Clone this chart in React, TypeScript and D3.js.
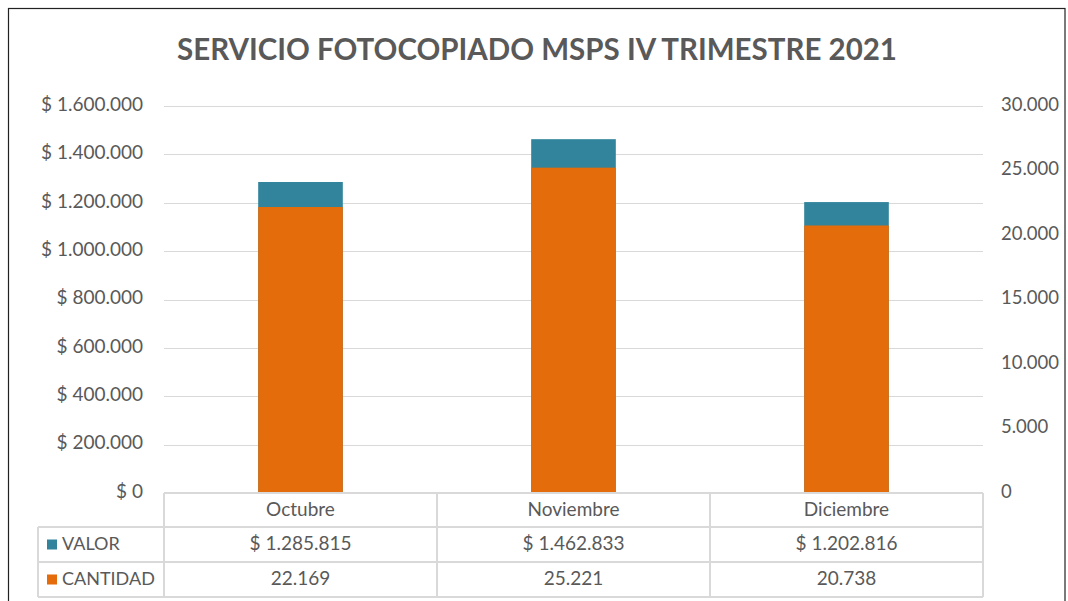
import React, { useRef, useEffect } from 'react';
import * as d3 from 'd3';

const months = ['Octubre', 'Noviembre', 'Diciembre'];
const valor = [1285815, 1462833, 1202816];
const cantidad = [22169, 25221, 20738];
const valorTicks = [0, 200000, 400000, 600000, 800000, 1000000, 1200000, 1400000, 1600000];
const cantidadTicks = [0, 5000, 10000, 15000, 20000, 25000, 30000];
const seriesNames = ['VALOR', 'CANTIDAD'];

const W = 1068;
const H = 601;
const TEAL = '#31849B';
const ORANGE = '#E46C0A';
const TEXT = '#595959';
const GRID = '#d9d9d9';
const FONT = 'Lato, "Open Sans", sans-serif';

// miles con punto, como Excel en español
const fmtNum = (v: number) => d3.format(',')(v).replace(/,/g, '.');
const fmtMoney = (v: number) => '$ ' + fmtNum(v);

const App = () => {
  const svgRef = useRef<SVGSVGElement>(null);

  useEffect(() => {
    const svg = d3.select(svgRef.current);
    svg.selectAll('*').remove();

    const plot = { left: 164, right: 983, top: 106, bottom: 493 };

    svg.append('rect')
      .attr('width', W).attr('height', H).attr('fill', '#fff');

    // marco del grafico
    svg.append('rect')
      .attr('x', 8.5).attr('y', 8.5)
      .attr('width', 1065 - 8.5).attr('height', H + 10)
      .attr('fill', 'none')
      .attr('stroke', '#222')
      .attr('stroke-width', 1.2);

    svg.append('text')
      .attr('x', 537).attr('y', 52)
      .attr('text-anchor', 'middle')
      .attr('dominant-baseline', 'middle')
      .style('font-family', FONT)
      .style('font-size', '29.5px')
      .style('font-weight', '700')
      .style('fill', TEXT)
      .text('SERVICIO FOTOCOPIADO MSPS IV TRIMESTRE 2021');

    const x = d3.scaleBand<string>()
      .domain(months)
      .range([plot.left, plot.right])
      .padding(0);

    const yL = d3.scaleLinear().domain([0, 1600000]).range([plot.bottom, plot.top]);
    const yR = d3.scaleLinear().domain([0, 30000]).range([plot.bottom, plot.top]);

    // lineas de division
    svg.append('g')
      .selectAll('line')
      .data(valorTicks.filter(t => t > 0))
      .enter()
      .append('line')
      .attr('x1', plot.left).attr('x2', plot.right)
      .attr('y1', d => Math.round(yL(d)) + 0.5)
      .attr('y2', d => Math.round(yL(d)) + 0.5)
      .attr('stroke', GRID)
      .attr('stroke-width', 1.2);

    // eje izquierdo
    svg.append('g')
      .selectAll('text')
      .data(valorTicks)
      .enter()
      .append('text')
      .attr('x', 143)
      .attr('y', d => yL(d))
      .attr('text-anchor', 'end')
      .attr('dominant-baseline', 'middle')
      .style('font-family', FONT)
      .style('font-size', '19px')
      .style('fill', TEXT)
      .text(d => fmtMoney(d));

    // eje derecho
    svg.append('g')
      .selectAll('text')
      .data(cantidadTicks)
      .enter()
      .append('text')
      .attr('x', 1001)
      .attr('y', d => yR(d))
      .attr('text-anchor', 'start')
      .attr('dominant-baseline', 'middle')
      .style('font-family', FONT)
      .style('font-size', '18.5px')
      .style('fill', TEXT)
      .text(d => fmtNum(d));

    const barW = x.bandwidth() * 0.31;
    const barX = (m: string) => (x(m) as number) + (x.bandwidth() - barW) / 2;

    // VALOR (eje principal) detras
    svg.append('g')
      .selectAll('rect')
      .data(months)
      .enter()
      .append('rect')
      .attr('x', d => barX(d))
      .attr('width', barW)
      .attr('y', (d, i) => yL(valor[i]))
      .attr('height', (d, i) => plot.bottom - yL(valor[i]))
      .attr('fill', TEAL);

    // CANTIDAD (eje secundario) delante
    svg.append('g')
      .selectAll('rect')
      .data(months)
      .enter()
      .append('rect')
      .attr('x', d => barX(d))
      .attr('width', barW)
      .attr('y', (d, i) => yR(cantidad[i]))
      .attr('height', (d, i) => plot.bottom - yR(cantidad[i]))
      .attr('fill', ORANGE);

    // tabla de datos
    const rows = [493, 527, 562, 597];
    const legendLeft = 38;
    const table = svg.append('g')
      .attr('stroke', GRID)
      .attr('stroke-width', 1.5)
      .attr('shape-rendering', 'crispEdges');

    table.append('line')
      .attr('x1', plot.left).attr('x2', plot.right)
      .attr('y1', rows[0]).attr('y2', rows[0]);
    rows.slice(1).forEach(ry => {
      table.append('line')
        .attr('x1', legendLeft).attr('x2', plot.right)
        .attr('y1', ry).attr('y2', ry);
    });
    table.append('line')
      .attr('x1', legendLeft).attr('x2', legendLeft)
      .attr('y1', rows[1]).attr('y2', rows[3]);
    const colEdges = [...months.map(m => x(m) as number), plot.right];
    colEdges.forEach(cx => {
      table.append('line')
        .attr('x1', cx).attr('x2', cx)
        .attr('y1', rows[0]).attr('y2', rows[3]);
    });

    const cellText = (g: any) => g
      .attr('text-anchor', 'middle')
      .attr('dominant-baseline', 'middle')
      .style('font-family', FONT)
      .style('font-size', '19px')
      .style('fill', TEXT);

    svg.append('g')
      .selectAll('text')
      .data(months)
      .enter()
      .append('text')
      .attr('x', d => (x(d) as number) + x.bandwidth() / 2)
      .attr('y', (rows[0] + rows[1]) / 2 + 1)
      .call(cellText)
      .text(d => d);

    svg.append('g')
      .selectAll('text')
      .data(months)
      .enter()
      .append('text')
      .attr('x', d => (x(d) as number) + x.bandwidth() / 2)
      .attr('y', (rows[1] + rows[2]) / 2 + 1)
      .call(cellText)
      .text((d, i) => fmtMoney(valor[i]));

    svg.append('g')
      .selectAll('text')
      .data(months)
      .enter()
      .append('text')
      .attr('x', d => (x(d) as number) + x.bandwidth() / 2)
      .attr('y', (rows[2] + rows[3]) / 2 + 1)
      .call(cellText)
      .text((d, i) => fmtNum(cantidad[i]));

    // leyenda dentro de la tabla
    const legend = svg.append('g')
      .selectAll('g')
      .data(seriesNames)
      .enter()
      .append('g')
      .attr('transform', (d, i) => `translate(${legendLeft + 9}, ${(rows[i + 1] + rows[i + 2]) / 2})`);

    legend.append('rect')
      .attr('x', 0).attr('y', -5)
      .attr('width', 10).attr('height', 10)
      .attr('fill', (d, i) => (i === 0 ? TEAL : ORANGE));

    legend.append('text')
      .attr('x', 15)
      .attr('y', 1)
      .attr('dominant-baseline', 'middle')
      .style('font-family', FONT)
      .style('font-size', '18px')
      .style('fill', TEXT)
      .text(d => d);
  }, []);

  return (
    <div style={{ position: 'absolute', left: 0, top: 0 }}>
      <svg ref={svgRef} width={W} height={H} style={{ display: 'block' }} />
    </div>
  );
};

export default App;
